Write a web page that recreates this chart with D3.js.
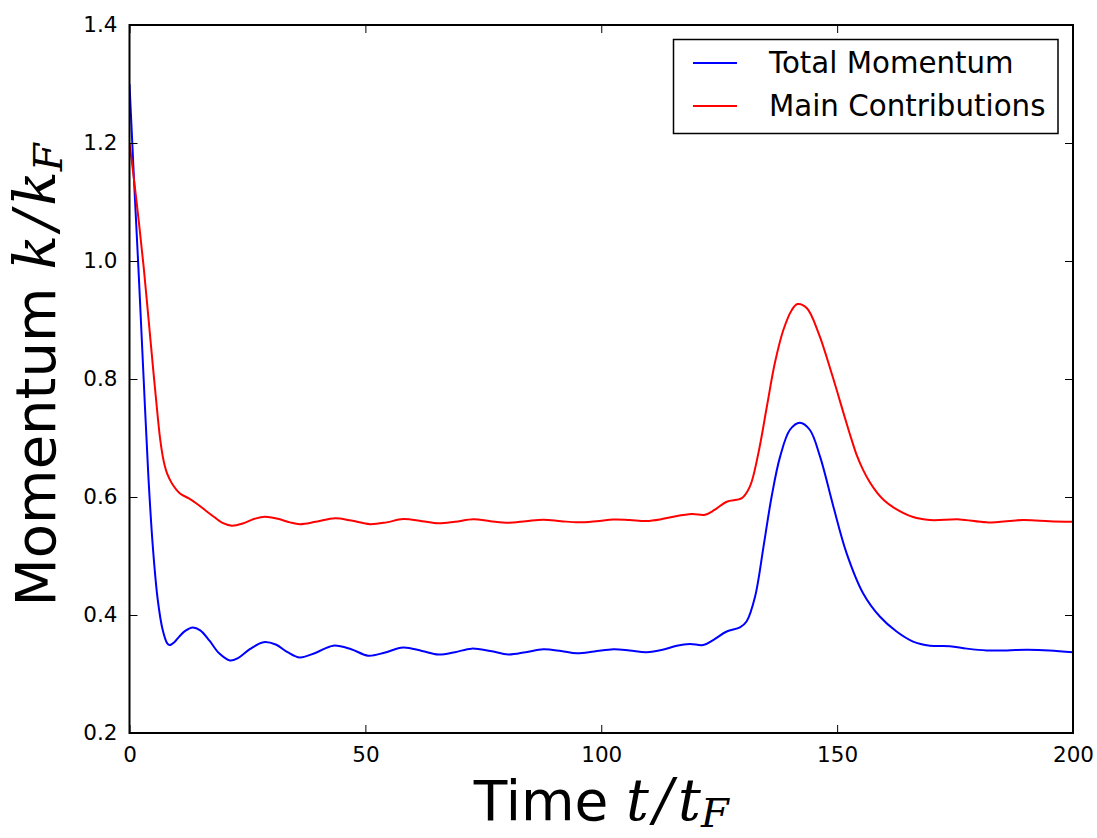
<!DOCTYPE html>
<html><head><meta charset="utf-8">
<script src="https://cdn.jsdelivr.net/npm/d3@7"></script>
<style>body{margin:0;background:#fff} svg{display:block}</style>
</head><body><svg id="c" width="1097" height="838"></svg>
<script>
// ---- data ----
const seriesNames = ["Total Momentum", "Main Contributions"];
const seriesColors = ["#0000ff", "#ff0000"];

const totalTime = [0,0.5,1,2,3,4,5,6,7,8,8.5,9.5,10.5,11.8,13.4,15,17,19,21.3,23,25.5,28.4,31,33.5,36.1,39.5,43.2,47,50.6,54,58,62,65.5,69,72.5,76.5,80.3,84,87.7,91.5,94.8,98.5,102.6,106,109.6,113,116,118.8,121.6,123.8,126.6,129.4,130.8,132.6,134.4,136.1,137.9,140,142.1,144.2,146.4,149.2,152,155.5,159.1,162.6,166.1,169.7,173.9,177.5,181.7,186,190.2,195,200];
const totalValue = [1.30,1.215,1.13,0.97,0.80,0.635,0.51,0.425,0.376,0.352,0.349,0.354,0.363,0.373,0.379,0.374,0.356,0.335,0.323,0.327,0.342,0.354,0.350,0.337,0.328,0.336,0.348,0.342,0.331,0.336,0.345,0.339,0.333,0.337,0.343,0.339,0.333,0.337,0.342,0.339,0.335,0.338,0.342,0.340,0.337,0.341,0.348,0.351,0.349,0.358,0.372,0.379,0.389,0.431,0.516,0.600,0.668,0.714,0.726,0.714,0.668,0.584,0.505,0.437,0.397,0.372,0.355,0.348,0.347,0.343,0.340,0.340,0.341,0.340,0.337];

const mainTime = [0,1,2,3,4,5,6,6.5,7,7.5,8,9,10.7,12.5,14.2,16,17.8,19.7,21.7,24,26.5,28.7,31.5,34,36.1,39.5,43.6,47,51,54.5,58,62,65.5,69,72.9,76.5,80.3,84,87.7,91.5,95.1,99,102.6,106,109.6,112.5,115.3,119.2,122,124,126.6,129.8,131.5,133.3,135.1,136.8,138.6,140.4,141.6,143.6,146.1,148.9,151.7,153,154.2,155.5,157,158.5,160,162,166.1,169.7,176,181.7,189.5,195,200];
const mainValue = [1.20,1.135,1.065,0.99,0.905,0.818,0.735,0.698,0.671,0.652,0.639,0.623,0.606,0.598,0.589,0.578,0.567,0.556,0.5514,0.555,0.563,0.5667,0.563,0.557,0.554,0.558,0.564,0.560,0.554,0.557,0.5627,0.559,0.5554,0.558,0.5622,0.559,0.5565,0.559,0.5616,0.559,0.557,0.559,0.562,0.561,0.5593,0.562,0.5667,0.5712,0.570,0.578,0.592,0.598,0.6175,0.674,0.753,0.827,0.883,0.917,0.927,0.920,0.877,0.808,0.733,0.699,0.670,0.646,0.624,0.607,0.594,0.582,0.566,0.561,0.562,0.557,0.561,0.559,0.558];

const xTicks = [0,50,100,150,200];
const yTicks = [0.2,0.4,0.6,0.8,1.0,1.2,1.4];

// ---- layout ----
const svg = d3.select("#c");
const L = 129.5, R = 1073, T = 25, B = 733;
const x = d3.scaleLinear().domain([0,200]).range([L,R]);
const y = d3.scaleLinear().domain([0.2,1.4]).range([B,T]);

svg.append("defs").append("clipPath").attr("id","clip")
  .append("rect").attr("x",L).attr("y",T).attr("width",R-L).attr("height",B-T);

const series = [
  {t: totalTime, v: totalValue},
  {t: mainTime, v: mainValue}
];
const line = d3.line().x(d=>x(d[0])).y(d=>y(d[1])).curve(d3.curveCatmullRom.alpha(0.5));
const g = svg.append("g").attr("clip-path","url(#clip)");
series.forEach((s,i)=>{
  const pts = s.t.map((t,j)=>[t,s.v[j]]);
  g.append("path").attr("d",line(pts)).attr("fill","none")
   .attr("stroke",seriesColors[i]).attr("stroke-width",2).attr("stroke-linejoin","round");
});

// axes (ticks inward on all four sides)
const tickFont = "DejaVu Sans";
const axB = d3.axisBottom(x).tickValues(xTicks).tickSize(-8).tickPadding(14).tickFormat(d3.format("d"));
const axT = d3.axisTop(x).tickValues(xTicks).tickSize(-8).tickFormat("");
const axL = d3.axisLeft(y).tickValues(yTicks).tickSize(-8).tickPadding(12).tickFormat(d3.format(".1f"));
const axR = d3.axisRight(y).tickValues(yTicks).tickSize(-8).tickFormat("");
function style(sel){
  sel.select(".domain").remove();
  sel.selectAll(".tick line").attr("stroke","#000").attr("stroke-width",1);
  sel.selectAll(".tick text").attr("font-family",tickFont).attr("font-size",21.5).attr("fill","#000");
}
svg.append("g").attr("transform",`translate(0,${B})`).call(axB).call(style);
svg.append("g").attr("transform",`translate(0,${T})`).call(axT).call(style);
svg.append("g").attr("transform",`translate(${L},0)`).call(axL).call(style);
svg.append("g").attr("transform",`translate(${R},0)`).call(axR).call(style);

svg.append("rect").attr("x",L).attr("y",T).attr("width",R-L).attr("height",B-T)
  .attr("fill","none").attr("stroke","#000").attr("stroke-width",2);

// axis labels
const mathFont = "DejaVu Serif";
function mathLabel(sel, a){
  sel.append("tspan").attr("font-family",mathFont).attr("font-style","italic").attr("font-size",57).text(a);
  sel.append("tspan").attr("font-family",mathFont).attr("font-style","italic").attr("font-size",57).attr("dx",5).text("/");
  sel.append("tspan").attr("font-family",mathFont).attr("font-style","italic").attr("font-size",57).attr("dx",5).text(a);
  sel.append("tspan").attr("font-family",mathFont).attr("font-style","italic").attr("font-size",40).attr("dy",7).text("F");
}
const xl = svg.append("text").attr("x",(L+R)/2).attr("y",820).attr("text-anchor","middle")
  .attr("font-family","DejaVu Sans").attr("font-size",55).attr("fill","#000");
xl.append("tspan").text("Time ");
mathLabel(xl, "t");

const yl = svg.append("text").attr("transform",`translate(55,${(T+B)/2 - 4}) rotate(-90)`).attr("text-anchor","middle")
  .attr("font-family","DejaVu Sans").attr("font-size",56).attr("fill","#000");
yl.append("tspan").text("Momentum ");
mathLabel(yl, "k");

// legend
const lg = svg.append("g");
lg.append("rect").attr("x",673.5).attr("y",39.5).attr("width",384.5).attr("height",94)
  .attr("fill","#fff").attr("stroke","#000").attr("stroke-width",1.5);
seriesNames.forEach((n,i)=>{
  const yy = 63 + i*43;
  lg.append("line").attr("x1",693).attr("x2",737).attr("y1",yy).attr("y2",yy)
    .attr("stroke",seriesColors[i]).attr("stroke-width",2);
  lg.append("text").attr("x",769).attr("y",yy+10).attr("font-family","DejaVu Sans")
    .attr("font-size",29.3).attr("fill","#000").text(n);
});
</script></body></html>
